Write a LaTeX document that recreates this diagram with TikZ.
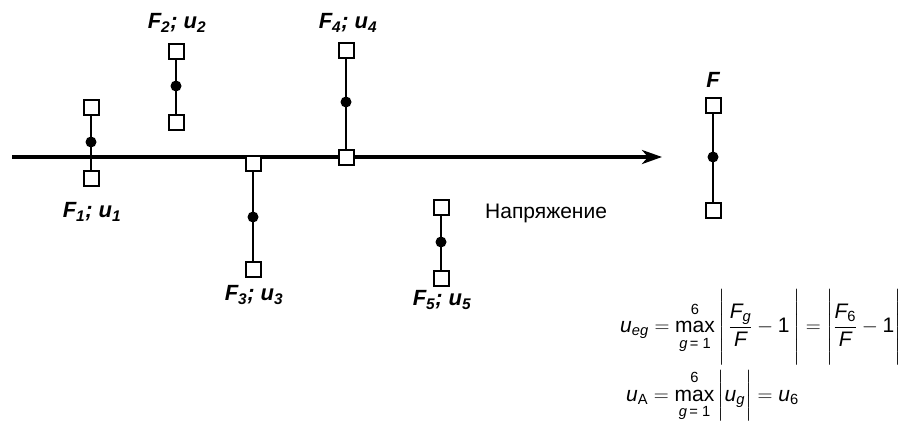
\documentclass[tikz,border=0pt]{standalone}
\usepackage{fontspec}
\usepackage{amsmath}
\setmainfont{Liberation Sans}
\usetikzlibrary{arrows.meta}
\newcommand{\vi}[1]{\text{\itshape #1}}
\newcommand{\tallbar}{\rule[-1.45em]{0pt}{3.5em}}
\newcommand{\midbar}{\rule[-0.75em]{0pt}{1.9em}}
\newcommand{\mymax}{\mathop{\text{max}}\limits_{\raisebox{-3pt}{$\scriptstyle\vi{g}\,\text{= 1}$}}^{\raisebox{3pt}{$\scriptstyle\text{6}$}}}
\tikzset{
  sq/.style={draw, fill=white, line width=2pt, minimum size=15pt, inner sep=0pt},
  dotn/.style={circle, fill=black, minimum size=11pt, inner sep=0pt},
  stem/.style={line width=2pt},
  lbl/.style={font=\fontsize{22}{24}\selectfont\bfseries\itshape, inner sep=0pt},
  axisline/.style={line width=4.5pt, -{Stealth[length=20pt,width=14pt,inset=6pt]}},
  frm/.style={inner sep=0pt, anchor=west, font=\fontsize{21}{23}\selectfont},
}
\begin{document}
\begin{tikzpicture}[x=1pt,y=-1pt]
\useasboundingbox (0,0) rectangle (920,426);
% axis
\coordinate (ax0) at (12,157);
\coordinate (ax1) at (662,157);
\draw[axisline] (ax0) -- (ax1);
% group 1
\node[sq] (t1) at (91,107) {};
\node[sq] (b1) at (91,178) {};
\draw[stem] (t1) -- (b1);
\node[dotn] (d1) at (91,142) {};
\node[lbl] (l1) at (92,212) {F\textsubscript{1}; u\textsubscript{1}};
% group 2
\node[sq] (t2) at (176,51) {};
\node[sq] (b2) at (176,122) {};
\draw[stem] (t2) -- (b2);
\node[dotn] (d2) at (176,86) {};
\node[lbl] (l2) at (177,23) {F\textsubscript{2}; u\textsubscript{2}};
% group 3
\node[sq] (t3) at (253,163) {};
\node[sq] (b3) at (253,269) {};
\draw[stem] (t3) -- (b3);
\node[dotn] (d3) at (253,217) {};
\node[lbl] (l3) at (254,295) {F\textsubscript{3}; u\textsubscript{3}};
% group 4
\node[sq] (t4) at (346,50) {};
\node[sq] (b4) at (346,157) {};
\draw[stem] (t4) -- (b4);
\node[dotn] (d4) at (346,102) {};
\node[lbl] (l4) at (348,23) {F\textsubscript{4}; u\textsubscript{4}};
% group 5
\node[sq] (t5) at (441,207) {};
\node[sq] (b5) at (441,278) {};
\draw[stem] (t5) -- (b5);
\node[dotn] (d5) at (441,242) {};
\node[lbl] (l5) at (442,300) {F\textsubscript{5}; u\textsubscript{5}};
% group F
\node[sq] (t6) at (713,105) {};
\node[sq] (b6) at (713,210) {};
\draw[stem] (t6) -- (b6);
\node[dotn] (d6) at (713,157) {};
\node[lbl] (l6) at (713,80) {F};
% axis label
\node[inner sep=0pt, anchor=west, font=\fontsize{21}{23}\selectfont] (ax) at (485,213) {Напряжение};
% formulas
\node[frm] (fa) at (620,327)
 {$\vi{u}_{\vi{eg}} = \mymax\left|\tallbar\,\dfrac{\vi{F}_{\vi{g}}}{\vi{F}} - \text{1}\,\right| = \left|\tallbar\dfrac{\vi{F}_{\text{6}}}{\vi{F}} - \text{1}\right|$};
\node[frm] (fb) at (626,396)
 {$\vi{u}_{\text{A}} = \mymax\left|\midbar\vi{u}_{\vi{g}}\right| = \vi{u}_{\text{6}}$};
\end{tikzpicture}
\end{document}
